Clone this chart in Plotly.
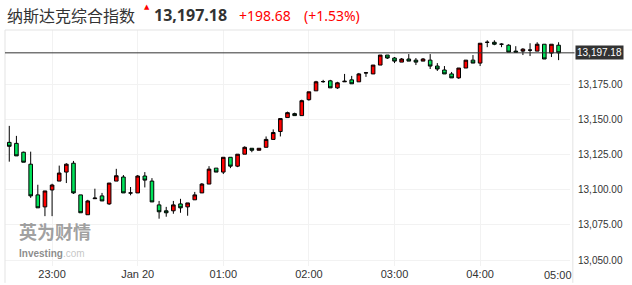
import pandas as pd
import plotly.graph_objects as go

times = pd.date_range("2021-01-19 22:30", periods=78, freq="5min")

opens = [13133.6, 13132.9, 13126.6, 13118.1, 13096.3, 13087.8, 13099.8, 13106.1, 13112.5, 13118.8,
         13096.3, 13082.2, 13093.6, 13095.6, 13089.9, 13106.1, 13109.0, 13097.6, 13097.7, 13109.7,
         13106.1, 13089.2, 13085.0, 13085.0, 13089.9, 13087.8, 13092.8, 13097.7, 13104.0, 13115.3,
         13112.5, 13123.0, 13116.7, 13125.2, 13129.4, 13128.0, 13130.1, 13135.7, 13141.3, 13151.2,
         13154.0, 13152.6, 13163.9, 13170.2, 13176.7, 13177.3, 13172.3, 13176.6, 13178.0, 13176.6,
         13182.9, 13182.2, 13188.5, 13195.6, 13193.5, 13190.6, 13192.8, 13192.0, 13191.3, 13192.0,
         13187.8, 13185.0, 13182.2, 13179.4, 13186.4, 13192.0, 13189.9, 13204.6, 13204.7, 13203.3,
         13202.6, 13198.4, 13198.4, 13199.1, 13198.4, 13203.3, 13197.0, 13202.6]
highs = [13145.3, 13138.2, 13127.0, 13127.0, 13103.5, 13099.1, 13104.2, 13117.1, 13118.8, 13120.4,
         13096.3, 13092.8, 13100.7, 13097.7, 13104.7, 13114.8, 13110.4, 13101.9, 13110.4, 13112.5,
         13108.2, 13092.0, 13087.8, 13092.0, 13093.5, 13090.6, 13098.4, 13104.7, 13116.7, 13115.3,
         13123.0, 13123.0, 13125.2, 13130.8, 13129.4, 13129.4, 13137.8, 13142.8, 13150.5, 13155.4,
         13154.7, 13163.9, 13169.5, 13177.3, 13178.0, 13178.0, 13176.6, 13182.2, 13180.8, 13182.9,
         13183.6, 13188.5, 13195.6, 13195.6, 13194.2, 13193.5, 13196.3, 13193.5, 13193.5, 13196.3,
         13189.9, 13187.8, 13183.6, 13186.4, 13192.0, 13195.6, 13204.0, 13206.1, 13206.1, 13204.0,
         13203.3, 13201.9, 13200.5, 13204.0, 13204.7, 13203.3, 13203.3, 13204.7]
lows = [13119.9, 13124.0, 13119.5, 13094.2, 13087.1, 13081.2, 13081.2, 13106.1, 13104.7, 13097.0,
        13083.6, 13082.2, 13093.5, 13092.0, 13089.2, 13106.1, 13097.7, 13096.0, 13097.7, 13101.6,
        13091.3, 13079.4, 13080.8, 13082.9, 13083.6, 13081.5, 13092.8, 13097.7, 13104.0, 13112.5,
        13111.1, 13115.3, 13116.0, 13125.2, 13126.6, 13128.0, 13130.1, 13135.7, 13137.8, 13151.2,
        13152.6, 13152.6, 13163.2, 13170.2, 13175.9, 13172.3, 13171.6, 13176.6, 13175.2, 13176.6,
        13180.1, 13182.2, 13188.5, 13192.8, 13189.9, 13190.6, 13191.3, 13188.5, 13191.3, 13185.7,
        13184.3, 13182.2, 13179.4, 13178.7, 13186.4, 13189.9, 13187.8, 13201.2, 13202.6, 13201.2,
        13197.7, 13197.7, 13195.6, 13194.9, 13198.4, 13192.8, 13194.2, 13192.0]
closes = [13130.8, 13124.0, 13119.5, 13095.6, 13087.1, 13099.1, 13103.3, 13111.8, 13118.1, 13097.7,
          13083.6, 13092.0, 13094.0, 13092.0, 13104.7, 13109.9, 13097.7, 13097.7, 13109.7, 13106.8,
          13091.3, 13084.3, 13083.6, 13089.2, 13087.1, 13090.6, 13096.3, 13104.0, 13114.6, 13112.5,
          13123.0, 13116.7, 13125.2, 13130.1, 13128.0, 13129.4, 13135.7, 13140.6, 13150.5, 13154.7,
          13152.6, 13163.2, 13169.5, 13176.6, 13176.8, 13172.3, 13175.9, 13177.0, 13175.2, 13182.2,
          13183.0, 13188.5, 13195.6, 13193.5, 13191.3, 13192.8, 13191.3, 13190.6, 13192.8, 13187.8,
          13185.7, 13182.2, 13179.4, 13186.4, 13192.0, 13189.9, 13204.0, 13204.7, 13203.3, 13203.3,
          13197.7, 13197.7, 13199.8, 13199.1, 13203.3, 13192.8, 13203.3, 13197.18]

last_price = 13197.18
change = "+198.68"
change_pct = "(+1.53%)"
title_name = "纳斯达克综合指数"

tick_times = ["2021-01-19 23:00", "2021-01-20 00:00", "2021-01-20 01:00",
              "2021-01-20 02:00", "2021-01-20 03:00", "2021-01-20 04:00"]
tick_labels = ["23:00", "Jan 20", "01:00", "02:00", "03:00", "04:00"]
y_ticks = [13050, 13075, 13100, 13125, 13150, 13175]

RED = "#ff0000"
GREEN = "#00e35a"

fig = go.Figure(go.Candlestick(
    x=times, open=opens, high=highs, low=lows, close=closes,
    increasing=dict(fillcolor=RED, line=dict(color="#000000", width=1)),
    decreasing=dict(fillcolor=GREEN, line=dict(color="#000000", width=1)),
    whiskerwidth=0,
    showlegend=False,
))

PLOT_TOP = 30
PLOT_BOTTOM = 268
plot_h = PLOT_BOTTOM - PLOT_TOP
ext = -(285 - PLOT_BOTTOM) / plot_h

fig.update_layout(
    width=632, height=285,
    margin=dict(l=5, r=62, t=PLOT_TOP, b=285 - PLOT_BOTTOM),
    paper_bgcolor="white", plot_bgcolor="white",
    boxgap=0.28,
    xaxis=dict(
        type="date",
        range=["2021-01-19 22:27", "2021-01-20 05:03"],
        rangeslider=dict(visible=False),
        tickvals=tick_times, ticktext=tick_labels,
        showgrid=True, gridcolor="#f2f2f2", gridwidth=1,
        zeroline=False, showline=False,
        tickfont=dict(family="Liberation Sans, Arial", size=11, color="#333333"),
        ticks="", fixedrange=True,
    ),
    yaxis=dict(
        side="right",
        range=[13045.8, 13213.4],
        tickvals=y_ticks, tickformat=",.2f",
        showgrid=True, gridcolor="#f2f2f2", gridwidth=1,
        zeroline=False, showline=False,
        ticks="outside", ticklen=5, tickcolor="rgba(0,0,0,0)",
        tickfont=dict(family="Liberation Sans, Arial", size=10, color="#333333"),
    ),
    font=dict(family="Liberation Sans, Arial"),
)

# frame lines (left, top, right)
frame = "#e3e3e3"
fig.add_shape(type="line", xref="paper", yref="paper", x0=0, x1=0, y0=ext, y1=1,
              line=dict(color=frame, width=1))
fig.add_shape(type="line", xref="paper", yref="paper", x0=1.005, x1=1.005, y0=ext, y1=1,
              line=dict(color=frame, width=1))
fig.add_shape(type="line", xref="paper", yref="paper", x0=0, x1=1.12, y0=1, y1=1,
              line=dict(color=frame, width=1))

# current price line
fig.add_shape(type="line", xref="paper", yref="y", x0=0, x1=1.008, y0=last_price, y1=last_price,
              line=dict(color="#333333", width=1))
fig.add_annotation(xref="paper", yref="y", x=1.008, y=last_price, xanchor="left", yanchor="middle",
                   text=f"{last_price:,.2f}", showarrow=False, bgcolor="#333333", borderpad=1,
                   font=dict(family="Liberation Sans, Arial", size=10, color="white"))

# last time label (shifted to stay inside)
fig.add_annotation(xref="x", yref="paper", x="2021-01-20 05:00", y=0, yshift=-9, xshift=-8,
                   xanchor="center", yanchor="middle", text="05:00", showarrow=False,
                   font=dict(family="Liberation Sans, Arial", size=11, color="#333333"))

# header
fig.add_annotation(xref="paper", yref="paper", x=0, xshift=0, y=1, yshift=15, xanchor="left",
                   yanchor="middle", text=title_name, showarrow=False,
                   font=dict(family="Noto Sans CJK SC", size=16, color="#333333"))
fig.add_annotation(xref="paper", yref="paper", x=0, xshift=137, y=1, yshift=23, xanchor="left",
                   yanchor="middle", text="▲", showarrow=False,
                   font=dict(family="DejaVu Sans", size=7, color=RED))
fig.add_annotation(xref="paper", yref="paper", x=0, xshift=147, y=1, yshift=15, xanchor="left",
                   yanchor="middle", text=f"<b>{last_price:,.2f}</b>", showarrow=False,
                   font=dict(family="Noto Sans", size=16, color="#333333"))
fig.add_annotation(xref="paper", yref="paper", x=0, xshift=232, y=1, yshift=15, xanchor="left",
                   yanchor="middle", text=change, showarrow=False,
                   font=dict(family="Noto Sans", size=14, color=RED))
fig.add_annotation(xref="paper", yref="paper", x=0, xshift=297, y=1, yshift=15, xanchor="left",
                   yanchor="middle", text=change_pct, showarrow=False,
                   font=dict(family="Noto Sans", size=14, color=RED))

# watermark
fig.add_annotation(xref="paper", yref="paper", x=0, xshift=13, y=0, yshift=35, xanchor="left",
                   yanchor="middle", text="<b>英为财情</b>", showarrow=False, borderpad=0,
                   font=dict(family="Noto Sans CJK SC", size=18, color="rgba(130,130,130,0.75)"))
fig.add_annotation(xref="paper", yref="paper", x=0, xshift=13, y=0, yshift=13, xanchor="left",
                   yanchor="middle", text="<b>Investing</b><span style='color:rgba(150,150,150,0.7)'>.com</span>",
                   showarrow=False, borderpad=0,
                   font=dict(family="Liberation Sans, Arial", size=10, color="rgba(110,110,110,0.8)"))

fig.write_html("out.html")
